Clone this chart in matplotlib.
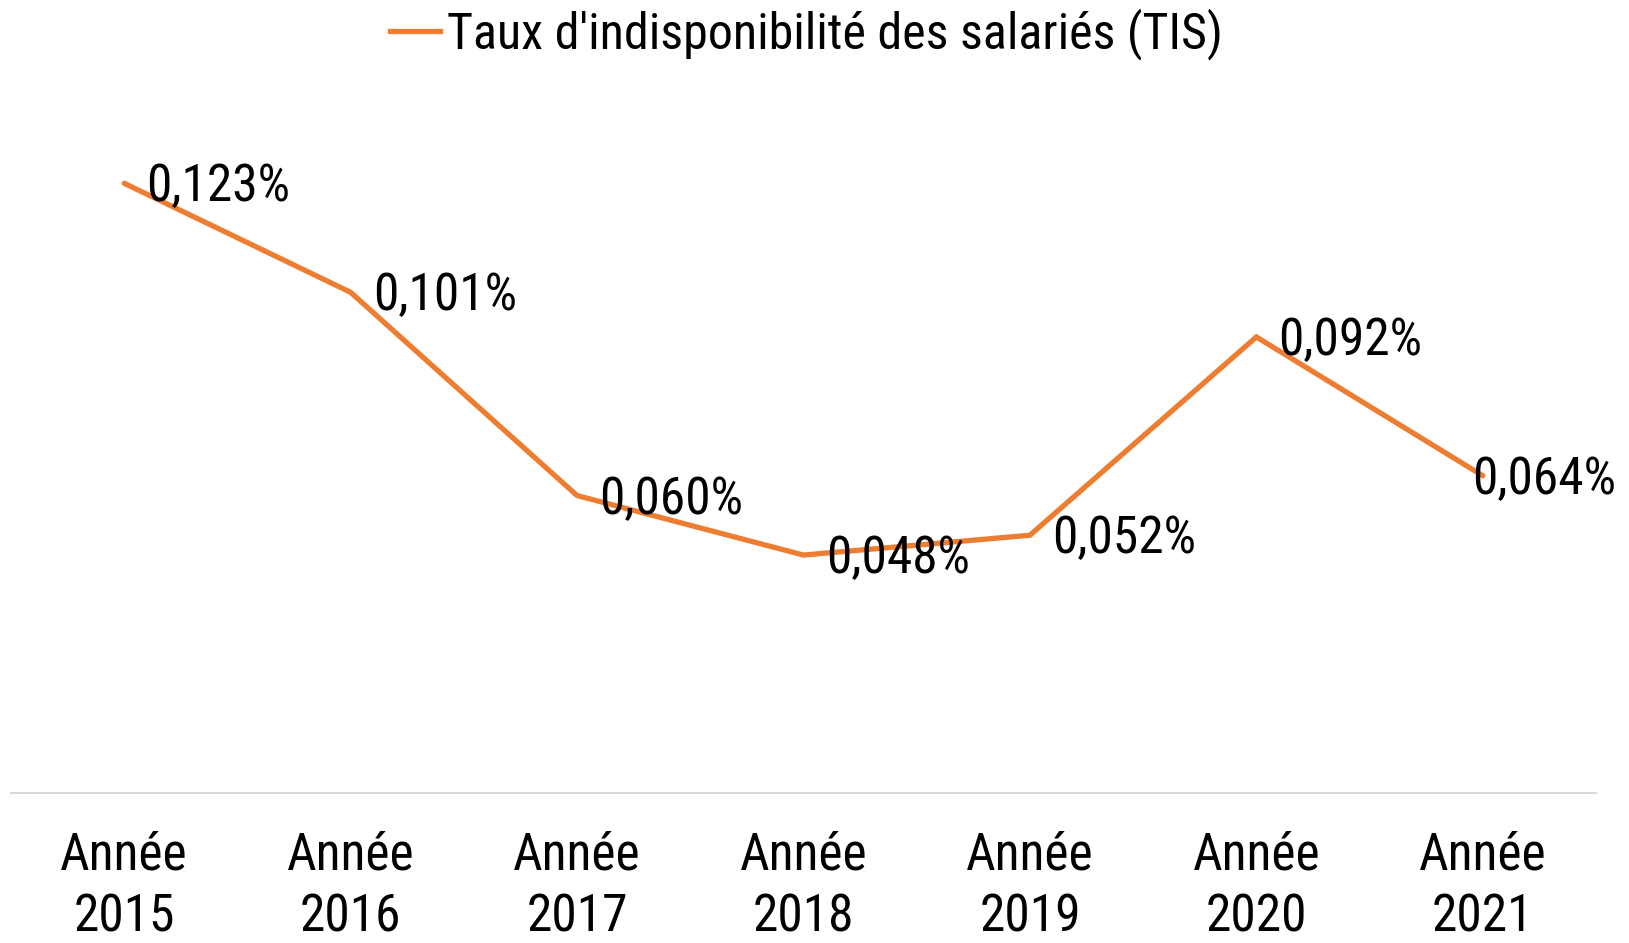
import matplotlib
matplotlib.use("Agg")
import matplotlib.pyplot as plt
from matplotlib.lines import Line2D

categories = ["Année\n2015", "Année\n2016", "Année\n2017", "Année\n2018",
              "Année\n2019", "Année\n2020", "Année\n2021"]
values = [0.123, 0.101, 0.060, 0.048, 0.052, 0.092, 0.064]
labels = ["0,123%", "0,101%", "0,060%", "0,048%", "0,052%", "0,092%", "0,064%"]
series_name = "Taux d'indisponibilité des salariés (TIS)"

plt.rcParams['font.family'] = ['Roboto Condensed', 'DejaVu Sans']
ORANGE = "#ED7D31"
FS = 37

fig = plt.figure(figsize=(16.29, 9.43), dpi=100)
W, H = 1629, 943
ax = fig.add_axes([11 / W, 150 / H, 1585 / W, 694 / H])
x = list(range(len(values)))
ax.plot(x, values, color=ORANGE, lw=3.8, solid_capstyle='round', solid_joinstyle='miter')
ax.set_xlim(-0.5, len(values) - 0.5)
ax.set_ylim(0, 0.14)
for i, (xi, v, lab) in enumerate(zip(x, values, labels)):
    dx = 16 if i < len(values) - 1 else -8
    ax.annotate(lab, (xi, v), xytext=(dx, -3), textcoords='offset points',
                ha='left', va='center', fontsize=FS, color='black')
for s in ['top', 'right', 'left']:
    ax.spines[s].set_visible(False)
ax.spines['bottom'].set_color('#D9D9D9')
ax.spines['bottom'].set_linewidth(1.5)
ax.set_yticks([])
ax.set_xticks(x)
ax.set_xticklabels(categories, fontsize=FS, linespacing=1.3)
ax.tick_params(axis='x', length=0, pad=27)

handle = Line2D([], [], color=ORANGE, lw=3.8)
fig.legend([handle], [series_name], loc='center', bbox_to_anchor=(776 * 1.039 / W, 1 - 34 / H),
           frameon=False, fontsize=36, handlelength=1.0, handletextpad=0.15)

fig.savefig("out.png", dpi=100)
